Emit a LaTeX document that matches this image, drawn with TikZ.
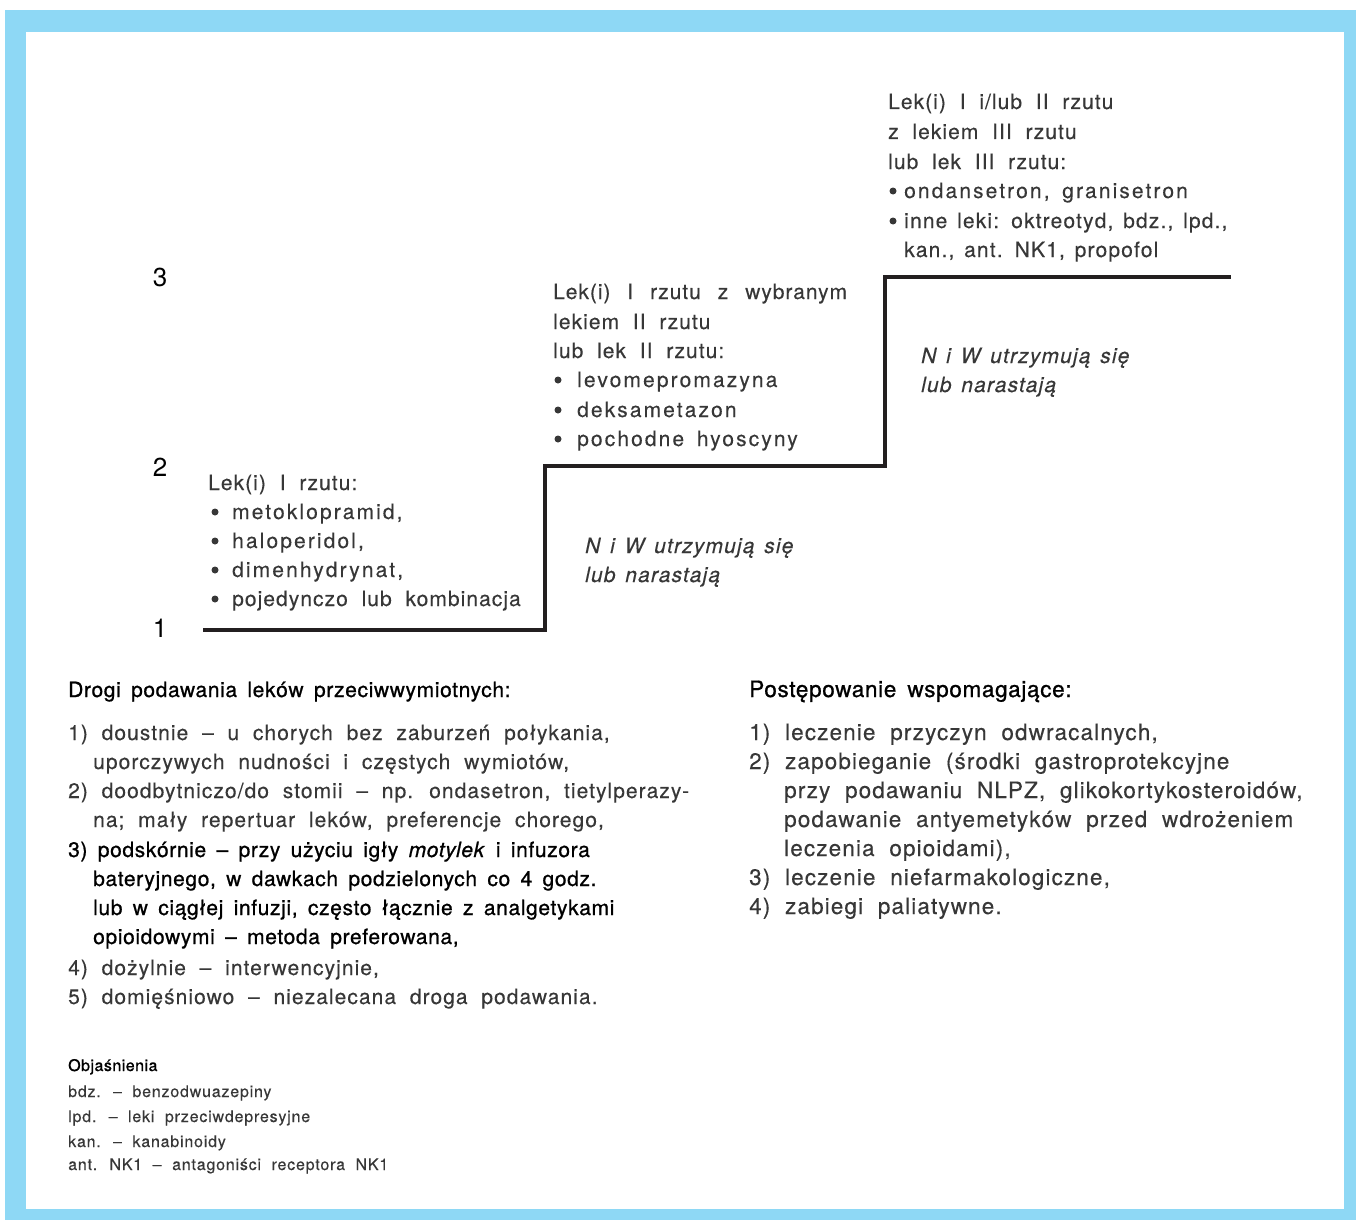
\documentclass[tikz,border=0pt]{standalone}
\usepackage{fontspec}
\setmainfont{TeX Gyre Heros}
\newfontfamily\bodyf[LetterSpace=5,WordSpace=2.0,FakeBold=0.25]{TeX Gyre Heros}
\newfontfamily\bodyw[LetterSpace=10,WordSpace=1.6,FakeBold=0.25]{TeX Gyre Heros}
\newfontfamily\bodyn[LetterSpace=5.5,WordSpace=1.4,FakeBold=0.25]{TeX Gyre Heros}
\newfontfamily\bodys[LetterSpace=4.5,WordSpace=2.5,FakeBold=0.25]{TeX Gyre Heros}
\newfontfamily\headf[LetterSpace=3,WordSpace=1.6,FakeBold=0.9]{TeX Gyre Heros}
\definecolor{frameblue}{RGB}{142,216,245}
\definecolor{txtgray}{RGB}{55,55,55}
\definecolor{stepblack}{RGB}{35,31,32}
\tikzset{
  txt/.style={anchor=base west, inner sep=0pt, font=\bodyf\fontsize{21}{25}\selectfont, text=txtgray},
  txtw/.style={txt, font=\bodyw\fontsize{21}{25}\selectfont},
  txtn/.style={txt, font=\bodyn\fontsize{21}{25}\selectfont},
  txts/.style={txt, font=\bodys\fontsize{21}{25}\selectfont},
  rtxt/.style={txt, font=\bodyf\fontsize{22.5}{25}\selectfont},
  hd/.style={txt, font=\headf\fontsize{21}{25}\selectfont, text=black},
  rhd/.style={hd, font=\headf\fontsize{22.5}{25}\selectfont},
  itx/.style={txt, font=\bodyn\itshape\fontsize{21}{25}\selectfont},
  bul/.style={circle, fill=txtgray, inner sep=0pt, minimum size=7pt},
  lvl/.style={anchor=base, inner sep=0pt, font=\fontsize{26}{30}\selectfont, text=black},
  sm/.style={anchor=base west, inner sep=0pt, font=\bodyf\fontsize{16}{18}\selectfont, text=txtgray},
  smhd/.style={sm, font=\headf\fontsize{16}{18}\selectfont, text=black},
  stepline/.style={line width=4.5pt, draw=stepblack, line join=miter, line cap=butt}
}
\begin{document}
\begin{tikzpicture}[x=1pt,y=-1pt]
\useasboundingbox (0,0) rectangle (1356,1220);
\fill[white] (0,0) rectangle (1356,1220);
\fill[frameblue] (5,10) rectangle (1356,1220);
\fill[white] (26,32) rectangle (1344,1209);

% staircase
\coordinate (s0) at (203,630);
\coordinate (s1) at (545,630);
\coordinate (s2) at (545,466);
\coordinate (s3) at (885,466);
\coordinate (s4) at (885,277);
\coordinate (s5) at (1231,277);
\draw[stepline] (s0) -- (s1) -- (s2) -- (s3) -- (s4) -- (s5);

% level numbers
\node[lvl] (n3) at (160,286) {3};
\node[lvl] (n2) at (160,476) {2};
\node[lvl] (n1) at (160,637) {1};

% step 1
\node[txt] (a0) at (208,490) {Lek(i) I rzutu:};
\node[bul] (ab1) at (215,512) {};
\node[txtw] (a1) at (232,519) {metoklopramid,};
\node[bul] (ab2) at (215,541) {};
\node[txtw] (a2) at (232,548) {haloperidol,};
\node[bul] (ab3) at (215,570) {};
\node[txtw] (a3) at (232,577) {dimenhydrynat,};
\node[bul] (ab4) at (215,599) {};
\node[txt] (a4) at (232,606) {pojedynczo lub kombinacja};

% step 2
\node[txts] (b0) at (553,299) {Lek(i) I rzutu z wybranym};
\node[txt] (b1) at (553,329) {lekiem II rzutu};
\node[txt] (b2) at (553,358) {lub lek II rzutu:};
\node[bul] (bb3) at (558,380) {};
\node[txtw] (b3) at (577,387) {levomepromazyna};
\node[bul] (bb4) at (558,410) {};
\node[txtw] (b4) at (577,417) {deksametazon};
\node[bul] (bb5) at (558,439) {};
\node[txtw] (b5) at (577,446) {pochodne hyoscyny};

% step 3
\node[txt] (c0) at (888,109) {Lek(i) I i/lub II rzutu};
\node[txt] (c1) at (888,139) {z lekiem III rzutu};
\node[txt] (c2) at (888,169) {lub lek III rzutu:};
\node[bul] (cb3) at (893,191) {};
\node[txtw] (c3) at (904,198) {ondansetron, granisetron};
\node[bul] (cb4) at (893,221) {};
\node[txtn] (c4) at (904,228) {inne leki: oktreotyd, bdz., lpd.,};
\node[txtn] (c5) at (904,257) {kan., ant. NK1, propofol};

% transitions
\node[itx] (t1a) at (585,553) {N i W utrzymują się};
\node[itx] (t1b) at (585,582) {lub narastają};
\node[itx] (t2a) at (921,363) {N i W utrzymują się};
\node[itx] (t2b) at (921,392) {lub narastają};

% routes of administration
\node[hd] (dh) at (68,697) {Drogi podawania leków przeciwwymiotnych:};
\node[txt] (d1) at (68,740) {1) doustnie – u chorych bez zaburzeń połykania,};
\node[txt] (d1b) at (93,769) {uporczywych nudności i częstych wymiotów,};
\node[txt] (d2) at (68,798) {2) doodbytniczo/do stomii – np. ondasetron, tietylperazy-};
\node[txt] (d2b) at (93,827) {na; mały repertuar leków, preferencje chorego,};
\node[hd] (d3) at (68,857) {3) podskórnie – przy użyciu igły \textit{motylek} i infuzora};
\node[hd] (d3b) at (93,886) {bateryjnego, w dawkach podzielonych co 4 godz.};
\node[hd] (d3c) at (93,915) {lub w ciągłej infuzji, często łącznie z analgetykami};
\node[hd] (d3d) at (93,944) {opioidowymi – metoda preferowana,};
\node[txt] (d4) at (68,975) {4) dożylnie – interwencyjnie,};
\node[txt] (d5) at (68,1004) {5) domięśniowo – niezalecana droga podawania.};

% supportive care
\node[rhd] (ph) at (749,697) {Postępowanie wspomagające:};
\node[rtxt] (p1) at (749,740) {1) leczenie przyczyn odwracalnych,};
\node[rtxt] (p2) at (749,769) {2) zapobieganie (środki gastroprotekcyjne};
\node[rtxt] (p2b) at (784,798) {przy podawaniu NLPZ, glikokortykosteroidów,};
\node[rtxt] (p2c) at (784,827) {podawanie antyemetyków przed wdrożeniem};
\node[rtxt] (p2d) at (784,856) {leczenia opioidami),};
\node[rtxt] (p3) at (749,885) {3) leczenie niefarmakologiczne,};
\node[rtxt] (p4) at (749,914) {4) zabiegi paliatywne.};

% explanations
\node[smhd] (oh) at (68,1071) {Objaśnienia};
\node[sm] (o1) at (68,1097) {bdz. – benzodwuazepiny};
\node[sm] (o2) at (68,1122) {lpd. – leki przeciwdepresyjne};
\node[sm] (o3) at (68,1147) {kan. – kanabinoidy};
\node[sm] (o4) at (68,1170) {ant. NK1 – antagoniści receptora NK1};
\end{tikzpicture}
\end{document}
